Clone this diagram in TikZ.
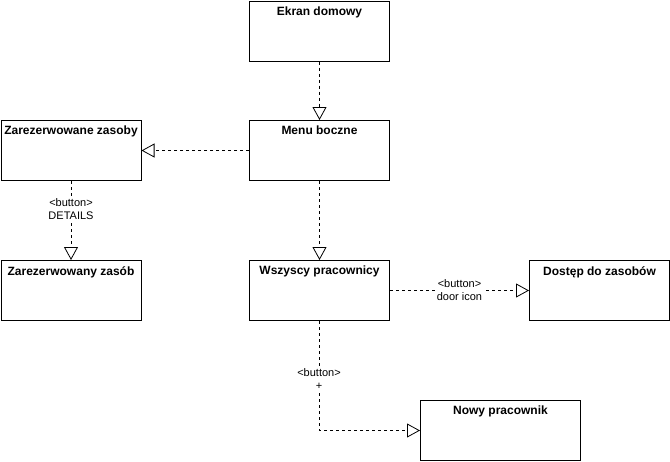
\documentclass[tikz,border=0pt]{standalone}
\usepackage{fontspec}
\setmainfont{Liberation Sans}
\usetikzlibrary{arrows.meta}
\begin{document}
\begin{tikzpicture}[x=1pt,y=-1pt,
  screen/.style={draw=black,line width=1pt,minimum width=140pt,minimum height=60pt,inner sep=0pt,fill=white},
  ttl/.style={font=\fontsize{12}{14}\selectfont\bfseries,anchor=north,inner sep=0pt},
  flow/.style={draw=black,line width=0.8pt,dash pattern=on 3pt off 3pt,-{Triangle[open,length=13pt,width=14pt,line width=0.8pt]}},
  lbl/.style={font=\fontsize{11}{13}\selectfont,fill=white,align=center,inner sep=1pt}]
\useasboundingbox (0,0) rectangle (670,461);
\node[screen,anchor=north west] (ekran) at (249,0.5) {};
\node[screen,anchor=north west] (menu) at (249,120) {};
\node[screen,anchor=north west] (zasoby) at (0.5,120) {};
\node[screen,anchor=north west] (zasob) at (0.5,260) {};
\node[screen,anchor=north west] (wszyscy) at (249,260) {};
\node[screen,anchor=north west] (dostep) at (529,260) {};
\node[screen,anchor=north west,minimum width=160pt] (nowy) at (420,400) {};
\node[ttl] (t1) at ([yshift=-6pt]ekran.north) {Ekran domowy};
\node[ttl] (t2) at ([yshift=-6pt]menu.north) {Menu boczne};
\node[ttl] (t3) at ([yshift=-6pt]zasoby.north) {Zarezerwowane zasoby};
\node[ttl] (t4) at ([yshift=-6pt]zasob.north) {Zarezerwowany zasób};
\node[ttl] (t5) at ([yshift=-6pt]wszyscy.north) {Wszyscy pracownicy};
\node[ttl] (t6) at ([yshift=-6pt]dostep.north) {Dostęp do zasobów};
\node[ttl] (t7) at ([yshift=-6pt]nowy.north) {Nowy pracownik};
\draw[flow] (ekran) -- (menu);
\draw[flow] (menu) -- (zasoby);
\draw[flow] (zasoby) -- (zasob) node[lbl,pos=0.35] (l1) {<button>\\DETAILS};
\draw[flow] (menu) -- (wszyscy);
\draw[flow] (wszyscy) -- (dostep) node[lbl,midway] (l2) {<button>\\door icon};
\coordinate (bend) at (wszyscy.south |- nowy.west);
\draw[flow] (wszyscy.south) -- (bend) -- (nowy.west);
\node[lbl] (l3) at (319,379) {<button>\\+};
\end{tikzpicture}
\end{document}
